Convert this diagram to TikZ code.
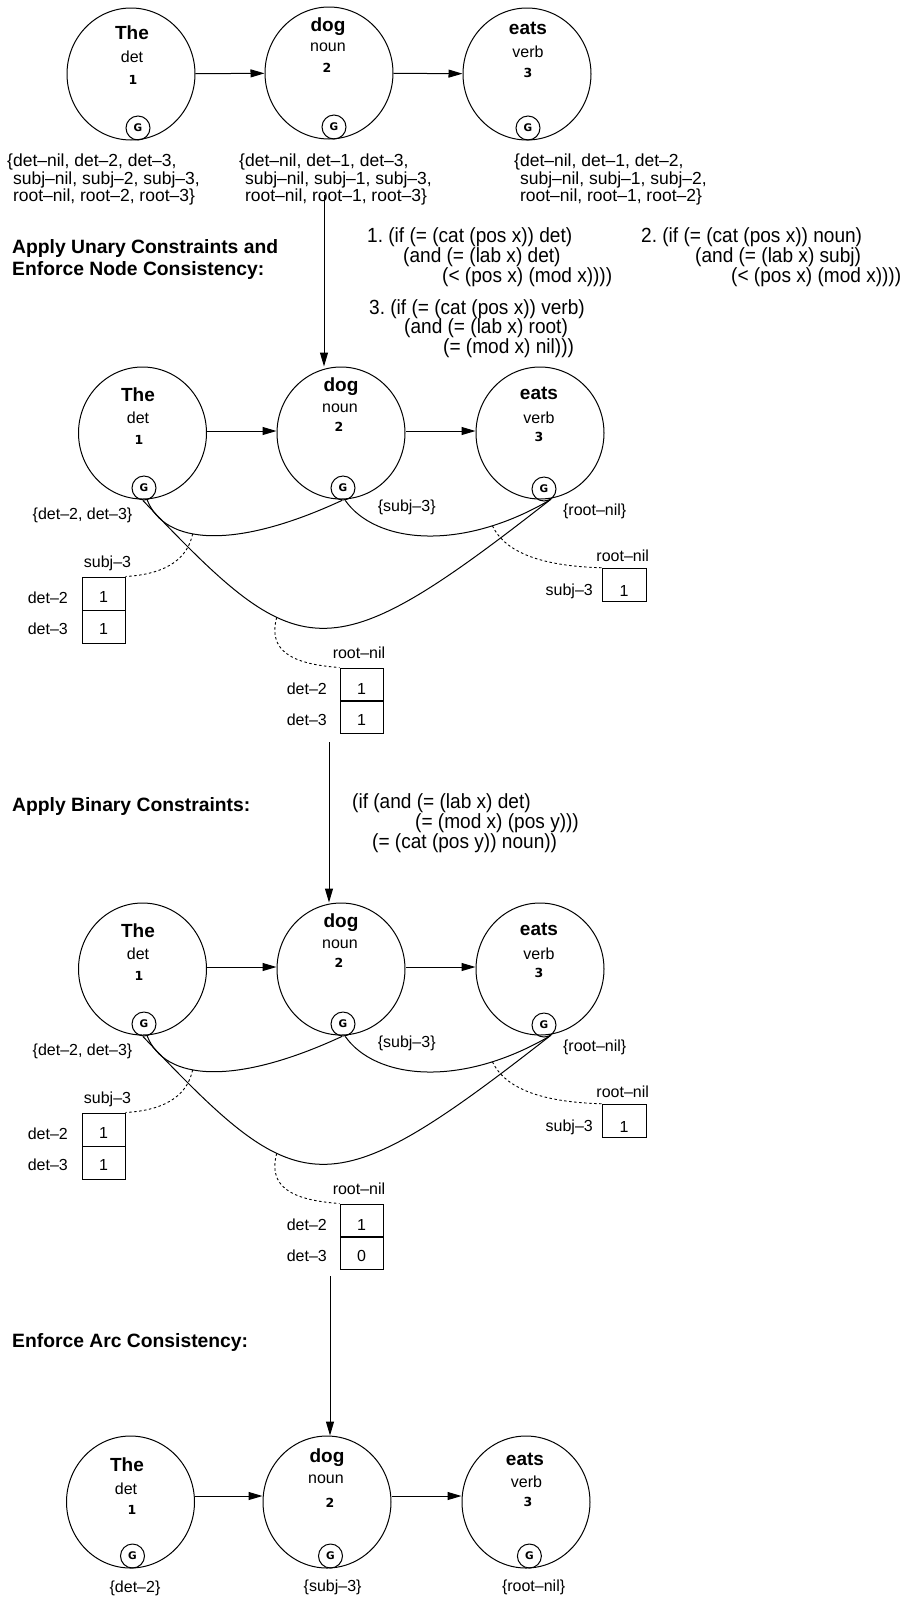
\documentclass[tikz,border=0pt]{standalone}
\usepackage{fontspec}
\setmainfont{Liberation Sans}
\newfontfamily\dvs{DejaVu Sans}
\newfontfamily\consfont[FakeStretch=0.93]{Liberation Sans}
\usetikzlibrary{shapes.geometric,arrows.meta}
\frenchspacing
\tikzset{
  wordc/.style={draw, ellipse, minimum width=128pt, minimum height=132pt, inner sep=0pt, line width=1pt},
  gc/.style={draw, circle, minimum size=24pt, inner sep=0pt, line width=1pt, font=\dvs\bfseries\fontsize{10.5}{12}\selectfont},
  wb/.style={inner sep=0pt, font=\bfseries\fontsize{19}{22}\selectfont},
  wcat/.style={inner sep=0pt, font=\fontsize{16}{18}\selectfont},
  wn/.style={inner sep=0pt, font=\dvs\bfseries\fontsize{12.5}{14}\selectfont},
  dom/.style={inner sep=0pt, anchor=west, align=left, font=\fontsize{17.5}{17.4}\selectfont},
  lab/.style={inner sep=0pt, font=\fontsize{16}{18}\selectfont},
  head/.style={inner sep=0pt, anchor=west, align=left, font=\bfseries\fontsize{19.3}{22}\selectfont},
  cons/.style={inner sep=0pt, anchor=west, align=left, font=\consfont\fontsize{20.5}{19.7}\selectfont},
  cell/.style={draw, minimum width=43pt, minimum height=33pt, inner sep=0pt, line width=1pt},
  arr/.style={-{Triangle[length=14pt,width=8pt]}, line width=1pt},
  arcl/.style={line width=1pt},
  dsh/.style={line width=0.9pt, dash pattern=on 2.5pt off 2.5pt}
}
\newcommand{\arcpanel}[2]{%
  \node[wordc] (#1t) at (142.5,433) {};
  \node[wordc] (#1d) at (341,433) {};
  \node[wordc] (#1e) at (540,433) {};
  \node[wb] (#1tw) at (138,395) {The};
  \node[wcat] (#1tc) at (138,418) {det};
  \node[wn] (#1tn) at (139,440) {1};
  \node[wb] (#1dw) at (341,387) {dog};
  \node[wcat] (#1dc) at (340,408) {noun};
  \node[wn] (#1dn) at (339,427) {2};
  \node[wb] (#1ew) at (539,393) {eats};
  \node[wcat] (#1ec) at (539,418) {verb};
  \node[wn] (#1en) at (539,437) {3};
  \node[gc] (#1tg) at (144,488) {G};
  \node[gc] (#1dg) at (343,488) {G};
  \node[gc] (#1eg) at (544,489) {G};
  \draw[arr] ([yshift=2pt]#1t.east) -- ([yshift=2pt]#1d.west);
  \draw[arr] ([yshift=2pt]#1d.east) -- ([yshift=2pt]#1e.west);
  \node[lab] (#1td) at (82.5,515) {\{det–2, det–3\}};
  \node[lab] (#1dd) at (406.7,507) {\{subj–3\}};
  \node[lab] (#1ed) at (594.7,511) {\{root–nil\}};
  % left table
  \node[cell] (#1lb1) at (103.5,593.5) {};
  \node[cell] (#1lb2) at (103.5,626.5) {};
  \node[lab] (#1lv1) at (103.5,597) {1};
  \node[lab] (#1lv2) at (103.5,629) {1};
  \node[lab, anchor=east] (#1ll1) at (68,598) {det–2};
  \node[lab, anchor=east] (#1ll2) at (68,629) {det–3};
  \node[lab] (#1lh) at (107.5,563) {subj–3};
  % middle table
  \node[cell] (#1mb1) at (361.5,684.5) {};
  \node[cell] (#1mb2) at (361.5,717) {};
  \node[lab] (#1mv1) at (361.5,688.5) {1};
  \node[lab] (#1mv2) at (361.5,719.5) {#2};
  \node[lab, anchor=east] (#1ml1) at (327,688.5) {det–2};
  \node[lab, anchor=east] (#1ml2) at (327,719.5) {det–3};
  \node[lab] (#1mh) at (359,653) {root–nil};
  % right table
  \node[cell, minimum width=44pt, minimum height=33.5pt] (#1rb1) at (624,585) {};
  \node[lab] (#1rv1) at (624,591) {1};
  \node[lab, anchor=east] (#1rl1) at (593,591) {subj–3};
  \node[lab] (#1rh) at (622.7,556) {root–nil};
  % arcs
  \draw[arcl] (#1tg.-75) .. controls (165,545) and (235,550) .. coordinate[pos=0.4] (#1pa) (#1dg.-95);
  \draw[arcl] (#1dg.-80) .. controls (375,543) and (460,553) .. coordinate[pos=0.78] (#1pb) (#1eg.-55);
  \draw[arcl] (#1tg.-95) .. controls (300,666) and (325,676) .. coordinate[pos=0.36] (#1pc) (#1eg.-62);
  \draw[dsh] (#1pa) .. controls (188,556) and (170,574) .. (#1lb1.north east);
  \draw[dsh] (#1pc) .. controls (268,650) and (290,664) .. (#1mb1.north west);
  \draw[dsh] (#1pb) .. controls (505,552) and (540,566) .. (#1rb1.north west);
}
\begin{document}
\begin{tikzpicture}[x=1pt,y=-1pt]
\useasboundingbox (0,0) rectangle (904,1599);
% ---------- panel 1 ----------
\node[wordc] (t1) at (131,74) {};
\node[wordc] (d1) at (329,73) {};
\node[wordc] (e1) at (527,74) {};
\node[wb] (t1w) at (132,33) {The};
\node[wcat] (t1c) at (132,57) {det};
\node[wn] (t1n) at (133,80) {1};
\node[wb] (d1w) at (328,27) {dog};
\node[wcat] (d1c) at (328,47) {noun};
\node[wn] (d1n) at (327,68) {2};
\node[wb] (e1w) at (528,28) {eats};
\node[wcat] (e1c) at (528,52) {verb};
\node[wn] (e1n) at (528,73) {3};
\node[gc] (t1g) at (138,128) {G};
\node[gc] (d1g) at (334,127) {G};
\node[gc] (e1g) at (528,128) {G};
\draw[arr] (t1) -- (d1);
\draw[arr] (d1) -- (e1);
\node[dom] (t1d) at (7,179.5) {\{det–nil, det–2, det–3,\\\hphantom{\{}subj–nil, subj–2, subj–3,\\\hphantom{\{}root–nil, root–2, root–3\}};
\node[dom] (d1d) at (239,179.5) {\{det–nil, det–1, det–3,\\\hphantom{\{}subj–nil, subj–1, subj–3,\\\hphantom{\{}root–nil, root–1, root–3\}};
\node[dom] (e1d) at (514,179.5) {\{det–nil, det–1, det–2,\\\hphantom{\{}subj–nil, subj–1, subj–2,\\\hphantom{\{}root–nil, root–1, root–2\}};
% ---------- step 1 ----------
\node[head] (h1) at (12,260) {Apply Unary Constraints and\\Enforce Node Consistency:};
\node[cons] (c1) at (367,257) {1. (if (= (cat (pos x)) det)\\\hspace*{36pt}(and (= (lab x) det)\\\hspace*{75pt}(< (pos x) (mod x))))};
\node[cons] (c2) at (641,257) {2. (if (= (cat (pos x)) noun)\\\hspace*{54pt}(and (= (lab x) subj)\\\hspace*{90pt}(< (pos x) (mod x))))};
\node[cons] (c3) at (369,328.5) {3. (if (= (cat (pos x)) verb)\\\hspace*{35pt}(and (= (lab x) root)\\\hspace*{74pt}(= (mod x) nil)))};
% ---------- panel 2 ----------
\arcpanel{p}{1}
\coordinate (v1) at (324,195);
\draw[arr] (v1) -- (v1 |- pd.north);
% ---------- step 2 ----------
\node[head] (h2) at (12,806) {Apply Binary Constraints:};
\node[cons] (c4) at (352,823) {(if (and (= (lab x) det)\\\hspace*{63pt}(= (mod x) (pos y)))\\\hspace*{20pt}(= (cat (pos y)) noun))};
\coordinate (v2) at (329,742);
% ---------- panel 3 ----------
\begin{scope}[shift={(0,536)}]
\arcpanel{q}{0}
\end{scope}
\draw[arr] (v2) -- (v2 |- qd.north);
% ---------- step 3 ----------
\node[head] (h3) at (12,1342) {Enforce Arc Consistency:};
% ---------- panel 4 ----------
\node[wordc] (t4) at (130.5,1502) {};
\node[wordc] (d4) at (327,1502) {};
\node[wordc] (e4) at (526,1502) {};
\node[wb] (t4w) at (127,1465) {The};
\node[wcat] (t4c) at (126,1489) {det};
\node[wn] (t4n) at (132,1510) {1};
\node[wb] (d4w) at (327,1458) {dog};
\node[wcat] (d4c) at (326,1479) {noun};
\node[wn] (d4n) at (330,1503) {2};
\node[wb] (e4w) at (525,1459) {eats};
\node[wcat] (e4c) at (526.5,1482) {verb};
\node[wn] (e4n) at (528,1502) {3};
\node[gc] (t4g) at (132.5,1556) {G};
\node[gc] (d4g) at (330.5,1556) {G};
\node[gc] (e4g) at (529.4,1556) {G};
\draw[arr] ([yshift=6pt]t4.east) -- ([yshift=6pt]d4.west);
\draw[arr] ([yshift=6pt]d4.east) -- ([yshift=6pt]e4.west);
\node[lab] (t4d) at (135,1588) {\{det–2\}};
\node[lab] (d4d) at (332.6,1587) {\{subj–3\}};
\node[lab] (e4d) at (533.6,1587) {\{root–nil\}};
\coordinate (v3) at (330,1276);
\draw[arr] (v3) -- (v3 |- d4.north);
\end{tikzpicture}
\end{document}
